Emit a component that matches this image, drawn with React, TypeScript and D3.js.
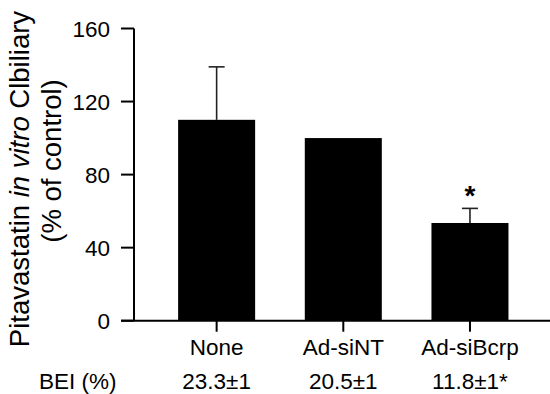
import * as d3 from "d3";

const WIDTH = 550;
const HEIGHT = 394;

const categories = ["None", "Ad-siNT", "Ad-siBcrp"];
const means = [110, 100, 53.5];
const errors = [29, 0, 8];
const significant = [false, false, true];
const beiLabels = ["23.3±1", "20.5±1", "11.8±1*"];
const yTicks = [0, 40, 80, 120, 160];

const FONT = "'Liberation Sans', Arial, Helvetica, sans-serif";

export default function App() {
  const y = d3.scaleLinear().domain([0, 160]).range([320.7, 28.5]);
  const x = d3
    .scaleBand<string>()
    .domain(categories)
    .range([153.3, 533.3])
    .paddingInner(0.392)
    .paddingOuter(0.196);
  const axisX = 134;
  const bw = x.bandwidth();

  return (
    <svg
      width={WIDTH}
      height={HEIGHT}
      viewBox={`0 0 ${WIDTH} ${HEIGHT}`}
      style={{ position: "absolute", left: 0, top: 0, background: "#fff" }}
      fontFamily={FONT}
    >
      <g className="bars">
        {categories.map((c, i) => {
          const cx = x(c)! + bw / 2;
          const top = y(means[i] + errors[i]);
          return (
            <g key={c}>
              {errors[i] > 0 && (
                <g stroke="#222" strokeWidth={1.6}>
                  <line x1={cx} x2={cx} y1={y(means[i])} y2={top} />
                  <line x1={cx - 8} x2={cx + 8} y1={top} y2={top} />
                </g>
              )}
              <rect x={x(c)} y={y(means[i])} width={bw} height={y(0) - y(means[i])} fill="#000" />
              {significant[i] && (
                <text x={cx} y={top - 3} textAnchor="middle" fontSize={28} fontWeight="bold">
                  *
                </text>
              )}
            </g>
          );
        })}
      </g>

      <g className="y-axis" stroke="#000" strokeWidth={2}>
        <line x1={axisX} x2={axisX} y1={y(160)} y2={y(0)} />
        {yTicks.map((t) => (
          <line key={t} x1={axisX - 13} x2={axisX} y1={y(t)} y2={y(t)} />
        ))}
      </g>
      {yTicks.map((t) => (
        <text key={t} x={110} y={y(t)} dy="0.36em" textAnchor="end" fontSize={22.5}>
          {t}
        </text>
      ))}

      <g className="x-axis" stroke="#000" strokeWidth={2}>
        <line x1={axisX - 13} x2={WIDTH} y1={y(0)} y2={y(0)} />
        {categories.map((c) => (
          <line key={c} x1={x(c)! + bw / 2} x2={x(c)! + bw / 2} y1={y(0)} y2={y(0) + 11} />
        ))}
      </g>
      {categories.map((c) => (
        <text key={c} x={x(c)! + bw / 2} y={355} textAnchor="middle" fontSize={22.5}>
          {c}
        </text>
      ))}

      <text x={39} y={389} fontSize={22.5}>
        BEI (%)
      </text>
      {categories.map((c, i) => (
        <text key={c} x={x(c)! + bw / 2} y={389} textAnchor="middle" fontSize={22.5}>
          {beiLabels[i]}
        </text>
      ))}

      <text transform="translate(29,179) rotate(-90)" textAnchor="middle" fontSize={27.5}>
        Pitavastatin <tspan fontStyle="italic">in vitro</tspan> Clbiliary
      </text>
      <text transform="translate(61,161) rotate(-90)" textAnchor="middle" fontSize={27.5}>
        (% of control)
      </text>
    </svg>
  );
}
